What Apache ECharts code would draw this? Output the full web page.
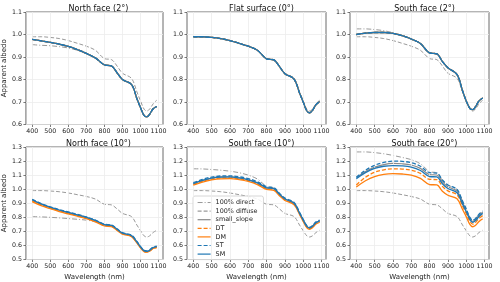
<!DOCTYPE html>
<html><head><meta charset="utf-8">
<script src="https://cdn.jsdelivr.net/npm/echarts@6/dist/echarts.min.js"></script>
<style>html,body{margin:0;padding:0;background:#fff}#c{width:500px;height:282px}</style>
</head><body><div id="c"></div>
<script>
// ---- data ----
const wavelength = [400,450,500,550,600,650,700,750,800,840,870,900,950,980,1000,1020,1035,1050,1070,1090];
const xTicks = [400,500,600,700,800,900,1000,1100];
const yTicksTop = [0.6,0.7,0.8,0.9,1.0,1.1];
const yTicksBottom = [0.5,0.6,0.7,0.8,0.9,1.0,1.1,1.2,1.3];
const panelTitles = ['North face (2°)','Flat surface (0°)','South face (2°)','North face (10°)','South face (10°)','South face (20°)'];
const seriesNames = ['100% direct','100% diffuse','small_slope','DT','DM','ST','SM'];

const diffuse = [0.990,0.990,0.987,0.982,0.973,0.961,0.948,0.930,0.893,0.888,0.860,0.828,0.805,0.745,0.705,0.668,0.660,0.668,0.692,0.708];

// North face 2°
const n2_direct = [0.955,0.952,0.950,0.946,0.940,0.930,0.914,0.894,0.863,0.858,0.828,0.798,0.776,0.713,0.673,0.638,0.632,0.643,0.668,0.678];
const n2_model  = [0.978,0.972,0.965,0.957,0.947,0.933,0.916,0.896,0.865,0.860,0.830,0.800,0.778,0.715,0.675,0.640,0.634,0.645,0.670,0.680];
// Flat 0°
const flat_direct = [0.990,0.990,0.987,0.982,0.973,0.961,0.948,0.930,0.892,0.887,0.858,0.826,0.802,0.740,0.700,0.660,0.652,0.662,0.688,0.702];
const flat_model  = [0.990,0.990,0.987,0.982,0.973,0.961,0.948,0.930,0.892,0.887,0.858,0.826,0.802,0.740,0.700,0.660,0.652,0.662,0.688,0.702];
// South face 2°
const s2_direct = [1.025,1.025,1.022,1.017,1.008,0.996,0.980,0.960,0.918,0.914,0.880,0.852,0.822,0.750,0.705,0.672,0.666,0.678,0.705,0.718];
const s2_model  = [1.000,1.006,1.009,1.009,1.005,0.995,0.980,0.960,0.918,0.914,0.880,0.852,0.822,0.750,0.705,0.672,0.666,0.678,0.705,0.718];
// North face 10°
const n10_direct = [0.805,0.803,0.800,0.796,0.791,0.786,0.780,0.768,0.742,0.737,0.710,0.684,0.666,0.621,0.586,0.558,0.554,0.561,0.581,0.588];
const n10_small  = [0.922,0.893,0.870,0.850,0.833,0.816,0.798,0.776,0.746,0.740,0.713,0.686,0.668,0.623,0.588,0.560,0.556,0.563,0.583,0.590];
const n10_DT     = [0.918,0.889,0.866,0.846,0.829,0.812,0.794,0.772,0.742,0.736,0.710,0.683,0.665,0.620,0.585,0.558,0.554,0.561,0.580,0.587];
const n10_DM     = [0.912,0.883,0.861,0.841,0.824,0.808,0.790,0.768,0.739,0.733,0.707,0.680,0.663,0.618,0.583,0.556,0.552,0.559,0.578,0.585];
const n10_ST     = [0.928,0.898,0.875,0.855,0.838,0.821,0.803,0.781,0.751,0.745,0.718,0.691,0.673,0.628,0.593,0.565,0.561,0.568,0.588,0.595];
const n10_SM     = [0.925,0.895,0.872,0.852,0.835,0.818,0.800,0.778,0.748,0.742,0.715,0.688,0.670,0.625,0.590,0.562,0.558,0.565,0.585,0.592];
// South face 10°
const s10_direct = [1.145,1.144,1.140,1.135,1.128,1.117,1.100,1.072,1.020,1.008,0.968,0.932,0.902,0.832,0.782,0.737,0.726,0.737,0.764,0.777];
const s10_small  = [1.040,1.063,1.079,1.087,1.088,1.081,1.068,1.046,1.011,1.004,0.966,0.931,0.901,0.831,0.781,0.736,0.725,0.736,0.763,0.776];
const s10_DT     = [1.034,1.056,1.072,1.080,1.081,1.074,1.061,1.039,1.004,0.997,0.959,0.925,0.895,0.825,0.775,0.730,0.719,0.730,0.757,0.770];
const s10_DM     = [1.028,1.050,1.066,1.074,1.075,1.068,1.055,1.033,0.998,0.991,0.954,0.920,0.890,0.820,0.770,0.726,0.715,0.726,0.752,0.765];
const s10_ST     = [1.046,1.070,1.086,1.094,1.095,1.088,1.075,1.053,1.017,1.010,0.972,0.937,0.906,0.836,0.786,0.740,0.729,0.740,0.768,0.781];
const s10_SM     = [1.040,1.062,1.078,1.086,1.087,1.080,1.067,1.045,1.010,1.003,0.965,0.930,0.900,0.830,0.780,0.735,0.724,0.735,0.762,0.775];
// South face 20°
const s20_direct = [1.265,1.265,1.260,1.252,1.240,1.226,1.210,1.180,1.125,1.115,1.065,1.030,0.998,0.915,0.860,0.800,0.780,0.790,0.822,0.845];
const s20_small  = [1.080,1.125,1.157,1.175,1.183,1.181,1.172,1.148,1.104,1.101,1.052,1.017,0.986,0.904,0.850,0.792,0.772,0.782,0.813,0.836];
const s20_DT     = [1.030,1.085,1.120,1.138,1.145,1.143,1.135,1.112,1.070,1.068,1.020,0.988,0.960,0.880,0.828,0.771,0.752,0.762,0.792,0.812];
const s20_DM     = [1.015,1.060,1.090,1.105,1.110,1.108,1.100,1.077,1.033,1.030,0.985,0.957,0.932,0.855,0.805,0.750,0.733,0.742,0.770,0.790];
const s20_ST     = [1.085,1.135,1.170,1.190,1.200,1.198,1.188,1.163,1.118,1.115,1.065,1.030,0.998,0.915,0.860,0.800,0.780,0.790,0.822,0.845];
const s20_SM     = [1.075,1.118,1.148,1.163,1.168,1.166,1.157,1.133,1.090,1.087,1.039,1.005,0.975,0.894,0.841,0.784,0.765,0.775,0.806,0.828];

const panels = [
  [n2_direct, diffuse, n2_model, n2_model, n2_model, n2_model, n2_model],
  [flat_direct, diffuse, flat_model, flat_model, flat_model, flat_model, flat_model],
  [s2_direct, diffuse, s2_model, s2_model, s2_model, s2_model, s2_model],
  [n10_direct, diffuse, n10_small, n10_DT, n10_DM, n10_ST, n10_SM],
  [s10_direct, diffuse, s10_small, s10_DT, s10_DM, s10_ST, s10_SM],
  [s20_direct, diffuse, s20_small, s20_DT, s20_DM, s20_ST, s20_SM]
];

// ---- styles ----
const FONT = 'DejaVu Sans';
const styles = [
  {color:'#9a9a9a', type:[5,2,1,2], width:1},
  {color:'#9a9a9a', type:[4,2], width:1},
  {color:'#8a8a8a', type:'solid', width:1.2},
  {color:'#ff7f0e', type:[4,2], width:1.3},
  {color:'#ff7f0e', type:'solid', width:1.3},
  {color:'#1f77b4', type:[4,2], width:1.3},
  {color:'#1f77b4', type:'solid', width:1.3}
];
const lefts = [24, 187, 350];
const W = 139;
const tops = [12, 147];
const H = 112.5;

const grids = [], xAxes = [], yAxes = [], series = [], titles = [];
for (let p = 0; p < 6; p++) {
  const col = p % 3, row = Math.floor(p / 3);
  grids.push({left: lefts[col], top: tops[row], width: W, height: H, show: true,
    borderColor: '#444', borderWidth: 0.8, backgroundColor: 'transparent', containLabel: false});
  titles.push({text: panelTitles[p], left: lefts[col] + W / 2, top: tops[row] - 12.5, textAlign: 'center',
    textStyle: {fontFamily: FONT, fontSize: 8, fontWeight: 'normal', color: '#111'}});
  const yt = row === 0 ? yTicksTop : yTicksBottom;
  xAxes.push({type: 'value', gridIndex: p, min: 365.5, max: 1124.5,
    axisLine: {show: false},
    axisTick: {show: true, length: 2.5, lineStyle: {color: '#444', width: 0.7}, customValues: xTicks},
    axisLabel: {fontFamily: FONT, fontSize: 6.3, color: '#222', margin: 4, customValues: xTicks,
      hideOverlap: false, showMinLabel: true, showMaxLabel: true, formatter: v => String(v)},
    splitLine: {show: false},
    name: row === 1 ? 'Wavelength (nm)' : '', nameLocation: 'middle', nameGap: 14,
    nameTextStyle: {fontFamily: FONT, fontSize: 7, color: '#222'}});
  yAxes.push({type: 'value', gridIndex: p, min: yt[0], max: yt[yt.length - 1], interval: 0.1,
    axisLine: {show: false},
    axisTick: {show: true, length: 2.5, lineStyle: {color: '#444', width: 0.7}},
    axisLabel: {fontFamily: FONT, fontSize: 6.3, color: '#222', margin: 4, formatter: v => v.toFixed(1)},
    splitLine: {show: true, lineStyle: {color: '#ececec', width: 0.8}},
    name: col === 0 ? 'Apparent albedo' : '', nameLocation: 'middle', nameGap: 17,
    nameTextStyle: {fontFamily: FONT, fontSize: 7, color: '#222'}});
  // vertical grid lines at x ticks
  series.push({type: 'line', xAxisIndex: p, yAxisIndex: p, data: [], z: 0, silent: true,
    markLine: {silent: true, symbol: 'none', label: {show: false}, animation: false,
      lineStyle: {color: '#ececec', width: 0.8, type: 'solid'},
      data: xTicks.map(v => ({xAxis: v}))}});
  panels[p].forEach((vals, i) => {
    series.push({name: seriesNames[i], type: 'line', xAxisIndex: p, yAxisIndex: p,
      data: wavelength.map((w, k) => [w, vals[k]]),
      showSymbol: false, symbol: 'none', smooth: 0.35, z: 2 + i,
      lineStyle: styles[i], itemStyle: {color: styles[i].color}, animation: false});
  });
}

const chart = echarts.init(document.getElementById('c'), null, {renderer: 'canvas'});
chart.setOption({
  animation: false,
  backgroundColor: '#fff',
  title: titles,
  grid: grids, xAxis: xAxes, yAxis: yAxes, series: series,
  legend: {data: seriesNames, orient: 'vertical', left: 193, top: 196,
    itemWidth: 13, itemHeight: 6, itemGap: 1.6, padding: [3, 6, 2, 4],
    itemStyle: {opacity: 0}, lineStyle: {width: 1.2},
    backgroundColor: 'rgba(255,255,255,0.85)', borderColor: '#ccc', borderWidth: 0.8, borderRadius: 2,
    textStyle: {fontFamily: FONT, fontSize: 6.4, color: '#222', lineHeight: 7}}
});
</script></body></html>
